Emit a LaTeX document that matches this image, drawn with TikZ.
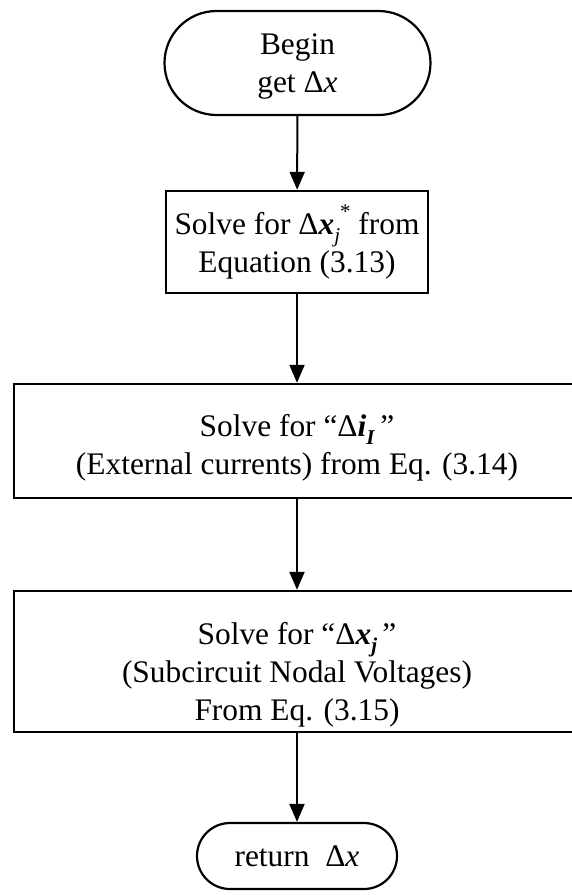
\documentclass[tikz,border=0pt]{standalone}
\usepackage{fontspec}
\setmainfont{Liberation Serif}
\usetikzlibrary{arrows.meta}
\newcommand\bix[1]{\textbf{\textit{#1}}}
\newcommand\lowsub[1]{\raisebox{-0.28em}{\fontsize{21}{21}\selectfont #1}}
\newcommand\highsup[1]{\raisebox{0.5em}{\fontsize{21}{21}\selectfont #1}}
\tikzset{
  box/.style={draw, line width=2.4pt, minimum width=#1, inner sep=0pt},
  term/.style={draw, line width=2.2pt, rounded corners=#1, inner sep=0pt},
  txt/.style={font=\fontsize{31.4}{38}\selectfont, align=center, inner sep=0pt, anchor=base},
  flow/.style={line width=2pt, -{Triangle[length=18pt,width=15pt]}}
}
\begin{document}
\begin{tikzpicture}[x=1pt,y=-1pt]
\useasboundingbox (0,0) rectangle (571,895);
\node[term=52pt, minimum width=266pt, minimum height=104pt] (begin) at (297.5,63) {};
\node[box=262pt, minimum height=102pt] (b1) at (297,242) {};
\node[box=566pt, minimum height=114pt] (b2) at (297,441) {};
\node[box=566pt, minimum height=141pt] (b3) at (297,661.5) {};
\node[term=33pt, minimum width=200pt, minimum height=66pt] (ret) at (297,856) {};
\node[txt] (tbegin) at (297.5,92) {Begin\\get Δ\textit{x}};
\node[txt] (t1) at (297,272) {Solve for Δ\bix{x}\lowsub{\textit{j}}\highsup{*} from\\Equation (3.13)};
\node[txt] (t2) at (297,474) {Solve for “Δ\bix{i}\lowsub{\bix{I}}\,”\\(External currents) from Eq. (3.14)};
\node[txt] (t3) at (297,720) {Solve for “Δ\bix{x}\lowsub{\bix{j}}\,”\\(Subcircuit Nodal Voltages)\\From Eq. (3.15)};
\node[txt, anchor=center] (tret) at (297,856) {return\ \ Δ\textit{x}};
\draw[flow] (begin) -- (b1);
\draw[flow] (b1) -- (b2);
\draw[flow] (b2) -- (b3);
\draw[flow] (b3) -- (ret);
\end{tikzpicture}
\end{document}
